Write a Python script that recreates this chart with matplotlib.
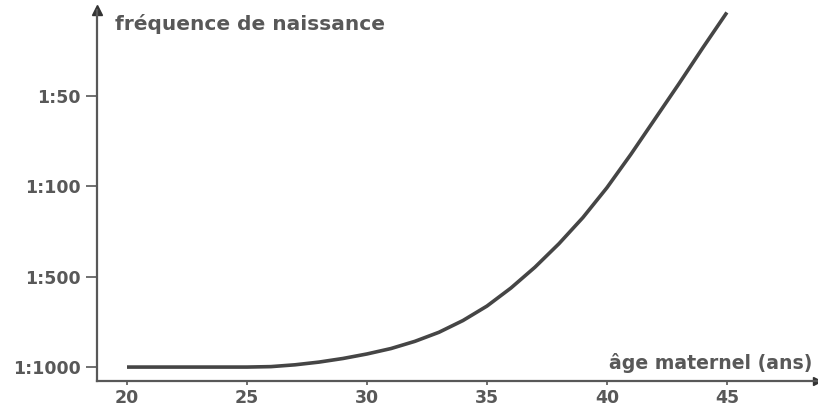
import numpy as np
import matplotlib.pyplot as plt

ages = [20, 22, 24, 25, 26, 27, 28, 29, 30, 31, 32, 33, 34, 35, 36, 37, 38, 39, 40, 41, 42, 43, 44, 45]
frequence = [0, 0, 0, 0, 0.005, 0.025, 0.055, 0.095, 0.145, 0.205, 0.285, 0.385, 0.515, 0.675,
             0.875, 1.105, 1.365, 1.655, 1.985, 2.355, 2.745, 3.135, 3.535, 3.925]

y_labels = ['1:1000', '1:500', '1:100', '1:50']
x_ticks = [20, 25, 30, 35, 40, 45]

gris = '#585858'

fig = plt.figure(figsize=(8.18, 4.08), dpi=100)
ax = fig.add_axes([0.1186, 0.066, 0.880, 0.909])

ax.plot(ages, frequence, color='#454545', lw=2.6, solid_capstyle='butt',
        solid_joinstyle='round', clip_on=False)

ax.set_xlim(18.75, 48.75)
ax.set_ylim(-0.155, 3.95)

ax.set_xticks(x_ticks)
ax.set_yticks(range(len(y_labels)))
ax.set_yticklabels(y_labels)

for s in ['top', 'right']:
    ax.spines[s].set_visible(False)
for s in ['left', 'bottom']:
    ax.spines[s].set_color(gris)
    ax.spines[s].set_linewidth(1.6)

ax.tick_params(axis='y', length=8, width=1.2, color=gris, labelcolor=gris, labelsize=12.5, pad=4)
ax.tick_params(axis='x', length=3, width=1.2, color=gris, labelcolor=gris, labelsize=12.5, pad=3)
for lab in ax.get_xticklabels() + ax.get_yticklabels():
    lab.set_fontweight('bold')

# flèches des axes
ax.plot(1, 0, marker='>', color='#333333', markersize=6, transform=ax.transAxes, clip_on=False)
ax.plot(0, 1, marker='^', color='#333333', markersize=7, transform=ax.transAxes, clip_on=False)

ax.text(0.025, 0.962, 'fréquence de naissance', transform=ax.transAxes, ha='left', va='center',
        fontsize=14.5, color=gris, fontweight='bold')
ax.text(0.994, 0.0485, 'âge maternel (ans)', transform=ax.transAxes, ha='right', va='center',
        fontsize=13.6, color=gris, fontweight='bold')

fig.savefig('out.png', dpi=100)
